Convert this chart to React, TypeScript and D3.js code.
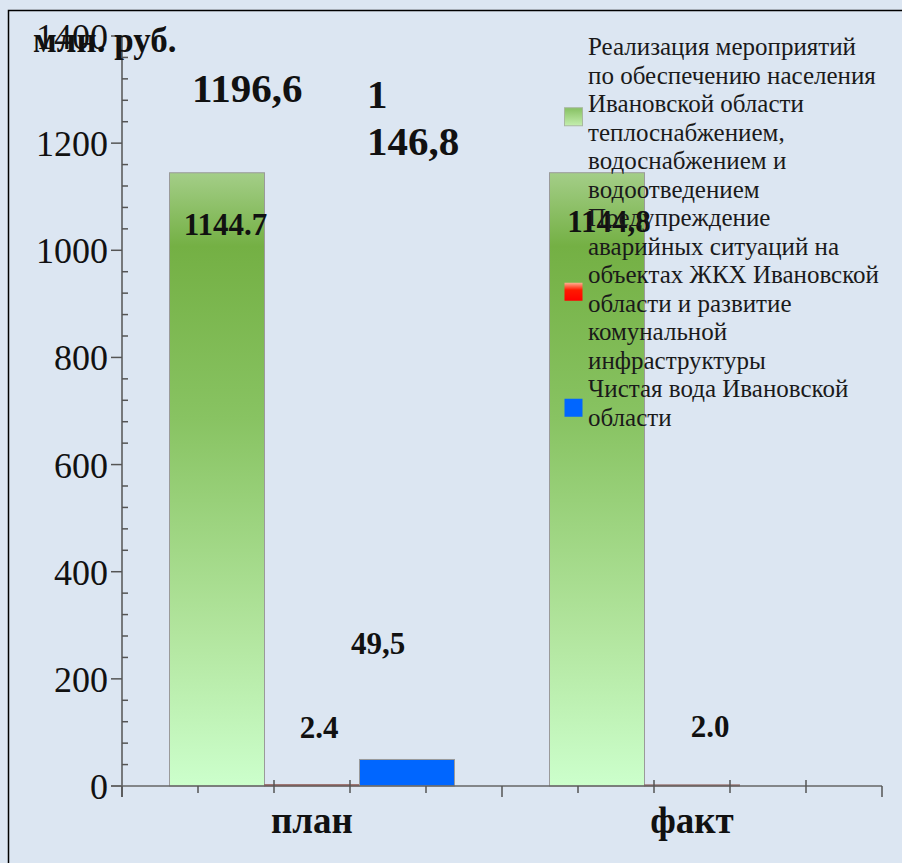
import React from 'react';
import * as d3 from 'd3';

const categories = ['план', 'факт'];
const seriesKeys = ['heat', 'emergency', 'water'];
const heatValues = [1144.7, 1144.8];
const emergencyValues = [2.4, 2.0];
const waterValues = [49.5, 0];
const heatLabels = ['1144.7', '1144,8'];
const emergencyLabels = ['2.4', '2.0'];
const waterLabels = ['49,5', ''];
const annotationTexts = [['1196,6'], ['1', '146,8']];
const yTickValues = [0, 200, 400, 600, 800, 1000, 1200, 1400];
const yUnit = 'млн. руб.';
const legendLines = [
  ['Реализация мероприятий', 'по обеспечению населения', 'Ивановской области', 'теплоснабжением,', 'водоснабжением и', 'водоотведением'],
  ['Предупреждение', 'аварийных ситуаций на', 'объектах ЖКХ Ивановской', 'области и развитие', 'комунальной', 'инфраструктуры'],
  ['Чистая вода Ивановской', 'области'],
];

const W = 902;
const H = 863;
const FONT = "'Liberation Serif', 'Times New Roman', serif";

export default function App() {
  const y = d3.scaleLinear().domain([0, 1400]).range([786, 36]);
  const x0 = d3.scaleBand<string>().domain(categories).range([122, 882]).paddingInner(0).paddingOuter(0);
  const x1 = d3.scaleBand<string>().domain(seriesKeys).range([0, x0.bandwidth()]).paddingInner(0).paddingOuter(0.5);
  const xt = d3.scaleLinear().domain([0, 10]).range([122, 882]);
  const xTicks = d3.range(0, 11);
  const minorY = d3.range(0, 1401, 40);

  const valuesBySeries: Record<string, number[]> = {
    heat: heatValues,
    emergency: emergencyValues,
    water: waterValues,
  };
  const fills: Record<string, string> = {
    heat: 'url(#gGreen)',
    emergency: '#ff0000',
    water: '#0066ff',
  };

  const y0 = y(0);

  const labelLayout: Record<string, { dx: number; yPos: (v: number) => number }[]> = {
    heat: [
      { dx: 8.5, yPos: (v) => y(v) + 62 },
      { dx: 12, yPos: (v) => y(v) + 59 },
    ],
    emergency: [
      { dx: 7, yPos: () => y0 - 48 },
      { dx: 18, yPos: () => y0 - 49 },
    ],
    water: [
      { dx: -29, yPos: () => y0 - 132 },
      { dx: 0, yPos: () => y0 },
    ],
  };
  const labelsBySeries: Record<string, string[]> = {
    heat: heatLabels,
    emergency: emergencyLabels,
    water: waterLabels,
  };

  const legendBaseline0 = 55;
  const lineH = 28.5;
  let lineIndex = 0;
  const legendItems = legendLines.map((lines, i) => {
    const start = lineIndex;
    lineIndex += lines.length;
    return { lines, start, key: seriesKeys[i] };
  });
  const legendSquareFill: Record<string, string> = {
    heat: 'url(#gLegGreen)',
    emergency: 'url(#gLegRed)',
    water: '#0066ff',
  };
  const squareShift: Record<string, number> = { heat: -4, emergency: 0, water: 2 };

  return (
    <svg width={W} height={H} style={{ position: 'absolute', left: 0, top: 0, display: 'block', fontFamily: FONT }}>
      <defs>
        <linearGradient id="gGreen" x1="0" y1="0" x2="0" y2="1">
          <stop offset="0" stopColor="#a4ce88" />
          <stop offset="0.12" stopColor="#74b044" />
          <stop offset="0.4" stopColor="#88c362" />
          <stop offset="0.75" stopColor="#b2e59e" />
          <stop offset="1" stopColor="#ccffcc" />
        </linearGradient>
        <linearGradient id="gLegGreen" x1="0" y1="0" x2="0" y2="1">
          <stop offset="0" stopColor="#86c062" />
          <stop offset="1" stopColor="#c4eeae" />
        </linearGradient>
        <linearGradient id="gLegRed" x1="0" y1="0" x2="0" y2="1">
          <stop offset="0" stopColor="#ffb090" />
          <stop offset="0.4" stopColor="#ff1a00" />
          <stop offset="1" stopColor="#ff0000" />
        </linearGradient>
      </defs>
      <rect x={0} y={0} width={W} height={H} fill="#dce6f2" />
      <rect x={8.5} y={10.5} width={W + 20} height={H + 20} fill="none" stroke="#000" strokeWidth={1.5} />

      {categories.map((c, ci) =>
        seriesKeys.map((k) => {
          const v = valuesBySeries[k][ci];
          if (!v) return null;
          const bx = (x0(c) as number) + (x1(k) as number);
          const top = y(v);
          return (
            <rect
              key={c + k}
              x={bx}
              y={top}
              width={x1.bandwidth()}
              height={y0 - top}
              fill={fills[k]}
              stroke={k === 'emergency' ? '#8a6a66' : '#9a9a9a'}
              strokeWidth={1}
            />
          );
        })
      )}

      <line x1={122} x2={122} y1={y(1400)} y2={797} stroke="#555" strokeWidth={1.5} />
      {yTickValues.map((t) => (
        <g key={'yt' + t}>
          <line x1={111} x2={122} y1={y(t)} y2={y(t)} stroke="#555" strokeWidth={1.5} />
          <text x={108} y={y(t) + 13} textAnchor="end" fontSize={36} fill="#111" style={{ fontFamily: FONT }}>
            {t}
          </text>
        </g>
      ))}
      {minorY
        .filter((t) => t % 200 !== 0)
        .map((t) => (
          <line key={'ym' + t} x1={122} x2={128} y1={y(t)} y2={y(t)} stroke="#555" strokeWidth={1.5} />
        ))}

      <line x1={111} x2={882} y1={y0} y2={y0} stroke="#666" strokeWidth={1.5} />
      {xTicks.map((i) => {
        const boundary = i % 5 === 0;
        const crossing = [2, 3, 7, 8, 9].includes(i);
        return (
          <line
            key={'xt' + i}
            x1={xt(i)}
            x2={xt(i)}
            y1={crossing ? y0 - 6 : y0}
            y2={boundary ? y0 + 11 : y0 + 7}
            stroke="#555"
            strokeWidth={1.5}
          />
        );
      })}
      {categories.map((c) => (
        <text
          key={'xl' + c}
          x={(x0(c) as number) + x0.bandwidth() / 2}
          y={833}
          textAnchor="middle"
          fontSize={37}
          fontWeight="bold"
          fill="#111"
          style={{ fontFamily: FONT }}
        >
          {c}
        </text>
      ))}

      <text x={33} y={52} fontSize={35} fontWeight="bold" fill="#111" style={{ fontFamily: FONT }}>
        {yUnit}
      </text>

      <text x={192} y={102} fontSize={41} fontWeight="bold" fill="#111" style={{ fontFamily: FONT }}>
        {annotationTexts[0][0]}
      </text>
      {annotationTexts[1].map((t, i) => (
        <text key={'an' + i} x={367} y={108 + i * 47} fontSize={41} fontWeight="bold" fill="#111" style={{ fontFamily: FONT }}>
          {t}
        </text>
      ))}

      {categories.map((c, ci) =>
        seriesKeys.map((k) => {
          const txt = labelsBySeries[k][ci];
          if (!txt) return null;
          const v = valuesBySeries[k][ci];
          const cx = (x0(c) as number) + (x1(k) as number) + x1.bandwidth() / 2;
          const L = labelLayout[k][ci];
          return (
            <text
              key={'vl' + c + k}
              x={cx + L.dx}
              y={L.yPos(v)}
              textAnchor="middle"
              fontSize={31}
              fontWeight="bold"
              fill="#111"
              style={{ fontFamily: FONT }}
            >
              {txt}
            </text>
          );
        })
      )}

      {legendItems.map((item) => {
        const firstTop = legendBaseline0 + item.start * lineH - 18;
        const lastBottom = legendBaseline0 + (item.start + item.lines.length - 1) * lineH + 7;
        const mid = (firstTop + lastBottom) / 2 + squareShift[item.key];
        return (
          <g key={'lg' + item.key}>
            <rect
              x={564.5}
              y={mid - 9}
              width={18}
              height={18}
              fill={legendSquareFill[item.key]}
              stroke={item.key === 'heat' ? '#a8b8a0' : 'none'}
              strokeWidth={1}
            />
            {item.lines.map((ln, li) => (
              <text
                key={li}
                x={588}
                y={legendBaseline0 + (item.start + li) * lineH}
                fontSize={25}
                fill="#1a1a1a"
                style={{ fontFamily: FONT }}
              >
                {ln}
              </text>
            ))}
          </g>
        );
      })}
    </svg>
  );
}
